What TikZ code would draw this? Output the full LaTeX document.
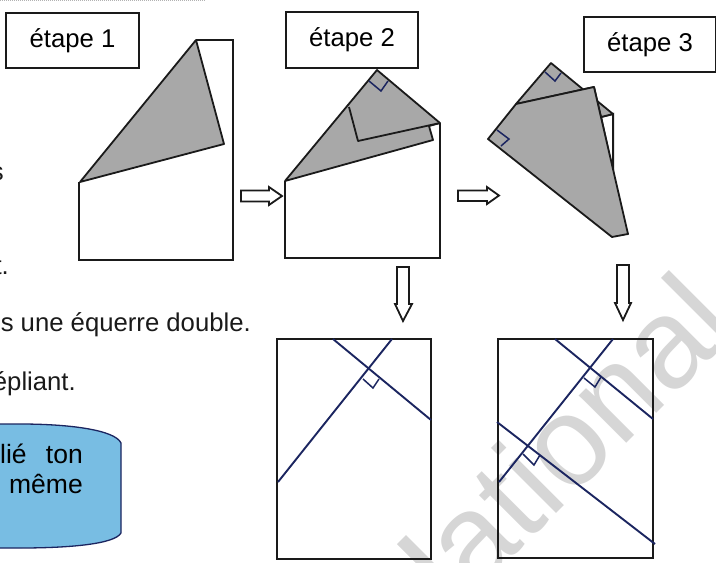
\documentclass[tikz,border=0pt]{standalone}
\usepackage{fontspec}
\setmainfont{Liberation Sans}
\definecolor{navyline}{HTML}{1B2560}
\definecolor{sheetgray}{HTML}{A8A8A8}
\definecolor{panelblue}{HTML}{78BDE3}
\definecolor{inkline}{HTML}{1A1A1A}
\definecolor{wmark}{HTML}{D6D6D6}
\tikzset{
  stepbox/.style={draw=inkline,line width=1.7pt,fill=white,inner sep=0pt,font=\fontsize{25.7}{30}\selectfont},
  sheet/.style={draw=inkline,line width=2pt,line join=miter},
  folded/.style={draw=inkline,line width=1.8pt,fill=sheetgray,line join=round},
  flowarrow/.style={draw=inkline,line width=1.8pt,fill=white,line join=miter},
  crease/.style={draw=navyline,line width=1.9pt},
  mark90/.style={draw=navyline,line width=1.5pt},
  bodytext/.style={inner sep=0pt,font=\fontsize{25.7}{30}\selectfont,text=inkline},
  paneltext/.style={inner sep=0pt,font=\fontsize{26.5}{30}\selectfont,text=black},
}
\begin{document}
\begin{tikzpicture}[x=1pt,y=-1pt]
\useasboundingbox (0,0) rectangle (716,563);
\clip (0,0) rectangle (716,563);
\fill[white] (0,0) rectangle (716,563);
% watermark
\node[rotate=45,anchor=base east,inner sep=0pt,text=wmark,font=\fontsize{127}{127}\selectfont] (wm) at (740.5,329.5) {ational};
\fill[wmark] (397,544) -- (406,535) -- (444,573) -- (435,582) -- cycle;
% scan edge at the top
\draw[gray!60,line width=1pt,densely dotted] (0,0.5) -- (205,0.5);
% cut-off body text
\node[bodytext,anchor=base east] (t1) at (4,180) {s};
\node[bodytext,anchor=base east] (t2) at (9,274) {t.};
\node[bodytext,anchor=base east] (t3) at (251,331) {s une équerre double.};
\node[bodytext,anchor=base east] (t4) at (76,390) {épliant.};
% blue panel
\draw[navyline,line width=1.3pt,fill=panelblue] (-40,424) -- (20,424) .. controls (70,424) and (115,430) .. (121,443) -- (121,533) .. controls (115,544) and (70,548) .. (20,548) -- (-40,548) -- cycle;
\node[paneltext,anchor=base east] (t5) at (83,463) {lié\hspace{0.45em} ton};
\node[paneltext,anchor=base east] (t6) at (83,493) {même};
% labels
\node[stepbox,minimum width=133pt,minimum height=55pt] (e1) at (72.5,40.5) {étape 1\hspace{4pt}};
\node[stepbox,minimum width=132pt,minimum height=56pt] (e2) at (352,40) {étape 2\hspace{4pt}};
\node[stepbox,minimum width=132pt,minimum height=55pt] (e3) at (650,44.5) {étape 3\hspace{4pt}};
% stage 1
\draw[sheet] (196,40) -- (233,40) -- (233,260) -- (79,260) -- (79,182);
\draw[folded] (196,40) -- (224,144) -- (80,182) -- cycle;
% stage 2
\draw[sheet] (440,123) -- (440,258) -- (285,258) -- (285,181);
\draw[folded] (285,181) -- (377,70) -- (440,123) -- (429,126) -- (433,140) -- cycle;
\draw[folded] (349,107) -- (358,141) -- (440,123);
\draw[mark90] (369,81) -- (381,91) -- (388,81);
% stage 3
\draw[sheet,fill=white] (613,114) -- (613,172) -- (601,117) -- cycle;
\draw[folded] (516,104) -- (551,63) -- (613,114) -- (601,117) -- (594,87) -- cycle;
\draw[folded] (488,139) -- (516,104) -- (594,87) -- (628,234) -- (612,237) -- cycle;
\draw[mark90] (545,72) -- (555,81) -- (561,73);
\draw[mark90] (497,130) -- (509,139) -- (501,146);
% arrows
\draw[flowarrow] (241,190.5) -- (269,190.5) -- (269,187) -- (282,196) -- (269,205) -- (269,201.5) -- (241,201.5) -- cycle;
\draw[flowarrow] (458,190.5) -- (487,190.5) -- (487,187) -- (499,195.5) -- (487,204) -- (487,201) -- (458,201) -- cycle;
\draw[flowarrow] (397,267) -- (409,267) -- (409,304) -- (412,304) -- (403,321) -- (395,304) -- (397,304) -- cycle;
\draw[flowarrow] (617,265) -- (629,265) -- (629,303) -- (631,303) -- (623,320) -- (615,303) -- (617,303) -- cycle;
% bottom sheet 1
\draw[sheet] (277,339) rectangle (431,559);
\draw[crease] (278,482) -- (392,339);
\draw[crease] (333,339) -- (431,420);
\draw[mark90] (363,379) -- (373,388) -- (379,379);
% bottom sheet 2
\draw[sheet] (498,339) rectangle (653,558);
\draw[crease] (499,482) -- (613,339);
\draw[crease] (555,339) -- (653,419);
\draw[crease] (497,422) -- (655,544);
\draw[mark90] (584,378) -- (595,387) -- (601,377);
\draw[mark90] (523,454) -- (534,465) -- (540,455);
\end{tikzpicture}
\end{document}
